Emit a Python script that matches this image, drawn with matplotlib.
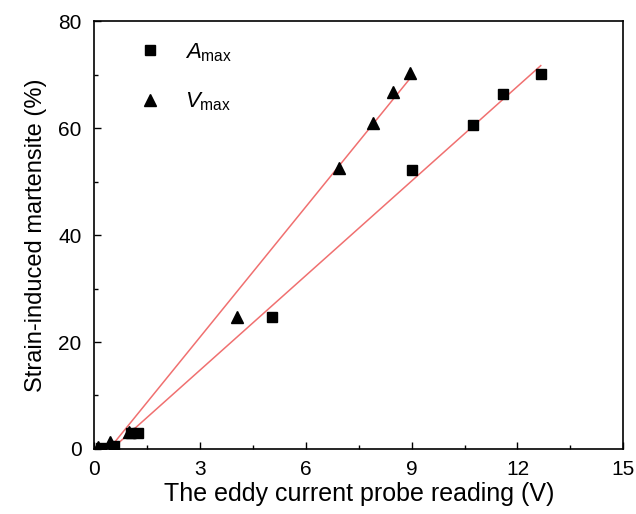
import matplotlib
matplotlib.use("Agg")
import matplotlib.pyplot as plt
import numpy as np

plt.rcParams['font.family'] = ['Liberation Sans', 'DejaVu Sans']
plt.rcParams['mathtext.fontset'] = 'custom'
plt.rcParams['mathtext.rm'] = 'Liberation Sans'
plt.rcParams['mathtext.it'] = 'Liberation Sans:italic'

# eddy current probe reading (V) vs strain-induced martensite (%)
a_x = [0.2, 0.55, 1.05, 1.25, 5.04, 9.0, 10.74, 11.6, 12.66]
a_y = [0.2, 0.6, 2.9, 2.9, 24.7, 52.1, 60.6, 66.4, 70.1]
v_x = [0.1, 0.45, 1.0, 4.05, 6.94, 7.9, 8.47, 8.95]
v_y = [0.3, 1.3, 3.1, 24.7, 52.5, 60.9, 66.7, 70.3]

fig = plt.figure(figsize=(6.36, 5.14), dpi=100)
ax = fig.add_axes([0.148, 0.1265, 0.832, 0.8325])

ax.plot(a_x, a_y, 's', color='black', ms=7, label=r'$\mathit{A}_{\rm max}$', zorder=3)
ax.plot(v_x, v_y, '^', color='black', ms=8, label=r'$\mathit{V}_{\rm max}$', zorder=3)

# linear fits
for xs, ys in [(a_x, a_y), (v_x, v_y)]:
    k, b = np.polyfit(xs, ys, 1)
    xx = np.array([min(xs), max(xs)])
    ax.plot(xx, k * xx + b, color='#f07070', lw=1.1, zorder=2)

ax.set_xlim(0, 15)
ax.set_ylim(0, 80)
ax.set_xticks([0, 3, 6, 9, 12, 15])
ax.set_xticks(np.arange(1.5, 15, 3), minor=True)
ax.set_yticks([0, 20, 40, 60, 80])
ax.set_yticks([10, 30, 50, 70], minor=True)
ax.tick_params(direction='in', which='major', length=5, width=1, labelsize=15)
ax.tick_params(axis='x', which='major', pad=8)
ax.tick_params(axis='y', which='major', pad=9)
ax.tick_params(direction='in', which='minor', length=3, width=1)
for s in ax.spines.values():
    s.set_linewidth(1.2)

ax.set_xlabel('The eddy current probe reading (V)', fontsize=18, labelpad=2)
ax.set_ylabel('Strain-induced martensite (%)', fontsize=17, labelpad=8)

ax.legend(loc='upper left', frameon=False, fontsize=16, handletextpad=0.6,
          labelspacing=1.2, borderaxespad=0.5, bbox_to_anchor=(0.025, 1.0))

fig.savefig('out.png', dpi=100)
